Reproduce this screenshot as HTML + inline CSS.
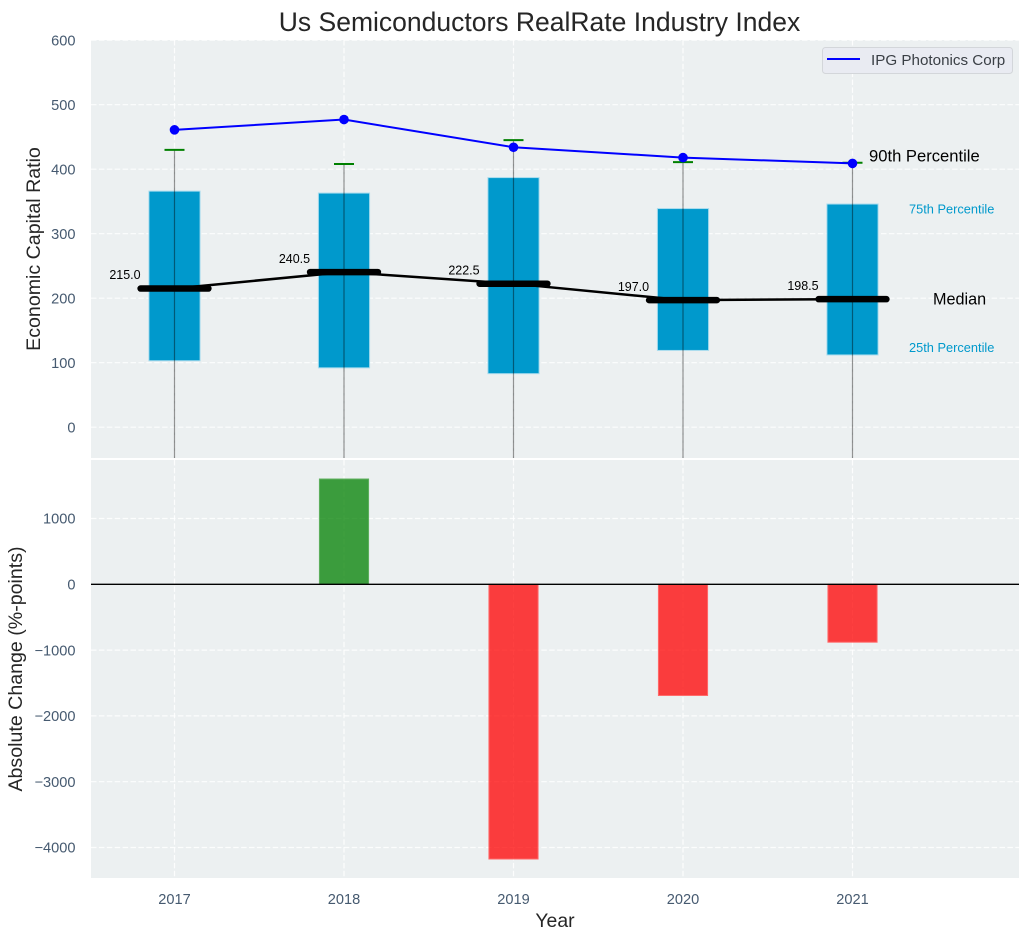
<!DOCTYPE html>
<html lang="en">
<head>
<meta charset="utf-8">
<title>Us Semiconductors RealRate Industry Index</title>
<style>
html,body{margin:0;padding:0;background:#fff;}
svg{display:block;font-family:"Liberation Sans",Arial,sans-serif;}
</style>
</head>
<body>
<svg id="chart" width="1029" height="940" viewBox="0 0 1029 940" xmlns="http://www.w3.org/2000/svg">
  <defs>
    <clipPath id="clip-top"><rect x="91" y="40" width="928" height="418"/></clipPath>
    <clipPath id="clip-bottom"><rect x="91" y="460" width="928" height="418"/></clipPath>
  </defs>
  <rect x="91" y="40" width="928" height="418" fill="#ecf0f1"/>
  <rect x="91" y="460" width="928" height="418" fill="#ecf0f1"/>
  <g id="grid-top" clip-path="url(#clip-top)"></g>
  <g id="grid-bottom" clip-path="url(#clip-bottom)"></g>
  <g id="marks-top" clip-path="url(#clip-top)"></g>
  <g id="marks-bottom" clip-path="url(#clip-bottom)"></g>
  <g id="ticks" font-size="14.6" fill="#465a70"></g>
  <text x="539.5" y="31" text-anchor="middle" font-size="26.5" fill="#262626">Us Semiconductors RealRate Industry Index</text>
  <text transform="translate(40,249) rotate(-90)" text-anchor="middle" font-size="19.6" fill="#262626">Economic Capital Ratio</text>
  <text transform="translate(22,669) rotate(-90)" text-anchor="middle" font-size="19.6" fill="#262626">Absolute Change (%-points)</text>
  <text x="555" y="927" text-anchor="middle" font-size="19.4" fill="#262626">Year</text>
  <g>
    <rect x="822.5" y="47.5" width="190" height="26" rx="3" fill="#e9ebf2" stroke="#d3d6da" stroke-width="1"/>
    <line x1="827" y1="59" x2="860" y2="59" stroke="#0000ff" stroke-width="2"/>
    <text x="871" y="65" font-size="15.2" fill="#3a3f45">IPG Photonics Corp</text>
  </g>
  <g id="annotations"></g>
</svg>
<script>
const years = [2017, 2018, 2019, 2020, 2021];
const p90 = [430, 408, 445, 411, 410];
const p75 = [366, 363, 387, 339, 346];
const medians = [215.0, 240.5, 222.5, 197.0, 198.5];
const p25 = [103, 92, 83, 119, 112];
const p10 = [-60, -60, -60, -60, -60];
const companyValues = [461, 477, 434, 418, 409];
const absoluteChange = [0, 1600, -4175, -1690, -880];
const topTicks = [0, 100, 200, 300, 400, 500, 600];
const bottomTicks = [-4000, -3000, -2000, -1000, 0, 1000];

const NS = 'http://www.w3.org/2000/svg';
const xScale = function (year) { return 174.5 + (year - 2017) * 169.5; };
const xWidth = function (span) { return span * 169.5; };
const yTop = function (v) { return 427.2 - v * 0.645; };
const yBottom = function (v) { return 584.3 - v * 0.0658; };

function make(tag, attrs, parent) {
  const el = document.createElementNS(NS, tag);
  Object.keys(attrs).forEach(function (k) { el.setAttribute(k, attrs[k]); });
  parent.appendChild(el);
  return el;
}

const gridTop = document.getElementById('grid-top');
const gridBottom = document.getElementById('grid-bottom');
const marksTop = document.getElementById('marks-top');
const marksBottom = document.getElementById('marks-bottom');
const ticks = document.getElementById('ticks');
const annotations = document.getElementById('annotations');
const gridStyle = { stroke: '#ffffff', 'stroke-width': 1.2, 'stroke-dasharray': '5.5 2.4', 'stroke-opacity': 0.85 };

topTicks.forEach(function (t) {
  const y = yTop(t);
  const g = make('line', Object.assign({ x1: 91, x2: 1019, y1: y, y2: y }, gridStyle), gridTop);
  
  
  const label = make('text', { x: 75.5, y: y + 5.2, 'text-anchor': 'end' }, ticks);
  label.textContent = String(t);
  
  
});

bottomTicks.forEach(function (t) {
  const y = yBottom(t);
  const g = make('line', Object.assign({ x1: 91, x2: 1019, y1: y, y2: y }, gridStyle), gridBottom);
  
  
  const label = make('text', { x: 75.5, y: y + 5.2, 'text-anchor': 'end' }, ticks);
  label.textContent = String(t).replace('-', '\u2212');
  
  
});

years.forEach(function (yr) {
  const x = xScale(yr);
  const g1 = make('line', Object.assign({ x1: x, x2: x, y1: 40, y2: 458 }, gridStyle), gridTop);
  
  
  const g2 = make('line', Object.assign({ x1: x, x2: x, y1: 460, y2: 878 }, gridStyle), gridBottom);
  
  
  const label = make('text', { x: x, y: 904, 'text-anchor': 'middle' }, ticks);
  label.textContent = String(yr);
  
  
});

years.forEach(function (yr, i) {
  const x = xScale(yr);
  const w = xWidth(0.302);
  const box = make('rect', {
    x: x - w / 2, y: yTop(p75[i]), width: w, height: yTop(p25[i]) - yTop(p75[i]),
    fill: '#0099cc', stroke: '#a9dcee', 'stroke-width': 1
  }, marksTop);
  
  

  const whisker = make('line', {
    x1: x, x2: x, y1: yTop(p90[i]), y2: yTop(p10[i]),
    stroke: '#000000', 'stroke-opacity': 0.42, 'stroke-width': 1.2
  }, marksTop);
  
  

  const cap = make('line', {
    x1: x - 10, x2: x + 10, y1: yTop(p90[i]), y2: yTop(p90[i]),
    stroke: '#008000', 'stroke-width': 2
  }, marksTop);
  
  
});

const medianLine = make('polyline', {
  points: years.map(function (yr, i) { return xScale(yr) + ',' + yTop(medians[i]); }).join(' '),
  fill: 'none', stroke: '#000000', 'stroke-width': 2.5
}, marksTop);



years.forEach(function (yr, i) {
  const x = xScale(yr);
  const y = yTop(medians[i]);
  const seg = make('line', {
    x1: x - xWidth(0.2), x2: x + xWidth(0.2), y1: y, y2: y,
    stroke: '#000000', 'stroke-width': 6.5, 'stroke-linecap': 'round'
  }, marksTop);
  
  

  const label = make('text', {
    x: x - xWidth(0.2), y: y - 9.3, 'text-anchor': 'end', 'font-size': 12.5, fill: '#000000'
  }, marksTop);
  label.textContent = medians[i].toFixed(1);
  
  
});

const companyLine = make('polyline', {
  points: years.map(function (yr, i) { return xScale(yr) + ',' + yTop(companyValues[i]); }).join(' '),
  fill: 'none', stroke: '#0000ff', 'stroke-width': 2
}, marksTop);



years.forEach(function (yr, i) {
  const dot = make('circle', { cx: xScale(yr), cy: yTop(companyValues[i]), r: 4.8, fill: '#0000ff' }, marksTop);
  
  
});

years.forEach(function (yr, i) {
  const v = absoluteChange[i];
  if (v === 0) { return; }
  const w = xWidth(0.29);
  const bar = make('rect', {
    x: xScale(yr) - w / 2,
    y: Math.min(yBottom(0), yBottom(v)),
    width: w,
    height: Math.abs(yBottom(v) - yBottom(0)),
    fill: v > 0 ? '#008000' : '#ff0000',
    'fill-opacity': 0.75,
    stroke: v > 0 ? '#5fb05f' : '#ff6a6a',
    'stroke-width': 1
  }, marksBottom);
  
  
});

const zeroLine = make('line', { x1: 91, x2: 1019, y1: yBottom(0), y2: yBottom(0), stroke: '#000000', 'stroke-width': 1.4 }, marksBottom);



const last = years.length - 1;
const a90 = make('text', { x: 869, y: yTop(p90[last]) - 1.5, 'font-size': 16.6, fill: '#000000' }, annotations);
a90.textContent = '90th Percentile';



const a75 = make('text', { x: 909, y: yTop(p75[last]) + 9.5, 'font-size': 12.8, fill: '#0099cc' }, annotations);
a75.textContent = '75th Percentile';



const aMed = make('text', { x: 933, y: yTop(medians[last]) + 5.5, 'font-size': 16.2, fill: '#000000' }, annotations);
aMed.textContent = 'Median';



const a25 = make('text', { x: 909, y: yTop(p25[last]) - 3, 'font-size': 12.8, fill: '#0099cc' }, annotations);
a25.textContent = '25th Percentile';


</script>
</body>
</html>
